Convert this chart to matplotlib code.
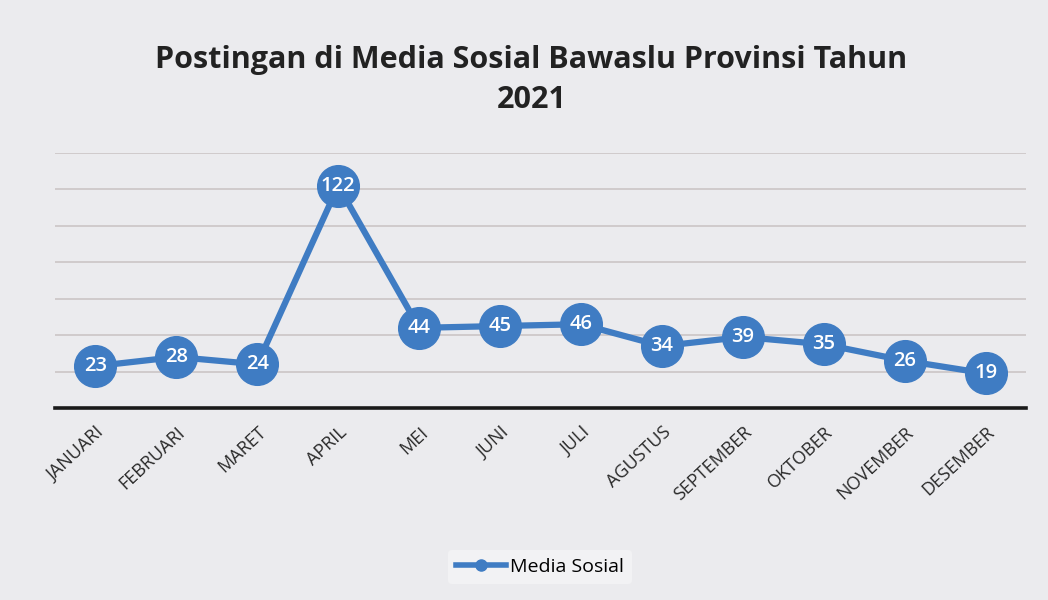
import matplotlib
matplotlib.use("Agg")
import matplotlib.pyplot as plt
from matplotlib.lines import Line2D

months = ["JANUARI", "FEBRUARI", "MARET", "APRIL", "MEI", "JUNI", "JULI",
          "AGUSTUS", "SEPTEMBER", "OKTOBER", "NOVEMBER", "DESEMBER"]
values = [23, 28, 24, 122, 44, 45, 46, 34, 39, 35, 26, 19]
series_name = "Media Sosial"
title = "Postingan di Media Sosial Bawaslu Provinsi Tahun\n2021"

plt.rcParams['font.family'] = ['Open Sans', 'DejaVu Sans']
blue = '#3f7cc3'
bg = '#ebebee'

fig = plt.figure(figsize=(10.48, 6), dpi=100, facecolor=bg)
ax = fig.add_axes([0.0525, 0.32, 0.9265, 0.425])
ax.set_facecolor(bg)

x = list(range(len(months)))
ax.plot(x, values, color=blue, lw=4.5, marker='o', markersize=30,
        markerfacecolor=blue, markeredgecolor=blue, label=series_name, zorder=3)
for xi, v in zip(x, values):
    ax.text(xi, v, str(v), ha='center', va='center', color='white',
            fontsize=14.5, fontweight='semibold', zorder=4)

ax.set_xlim(-0.5, len(months) - 0.5)
ax.set_ylim(0, 140)
ax.set_yticks(range(20, 141, 20))
ax.yaxis.grid(True, color='#c9c2c2', lw=1.1)
ax.set_axisbelow(True)
ax.tick_params(axis='y', left=False, labelleft=False)
ax.tick_params(axis='x', length=0, pad=11)
ax.set_xticks(x)
ax.set_xticklabels(months, rotation=43, ha='right', rotation_mode='anchor',
                   fontsize=13, color='#2a2a2a')
for s in ['top', 'right', 'left']:
    ax.spines[s].set_visible(False)
ax.spines['bottom'].set_color('#1a1a1a')
ax.spines['bottom'].set_linewidth(2.6)

fig.text(0.507, 0.867, title, ha='center', va='center', fontsize=22,
         fontweight='bold', color='#222222', linespacing=1.42)

lh = Line2D([0], [0], color=blue, lw=4, marker='o', markersize=8)
fig.legend([lh], [series_name], loc='center', bbox_to_anchor=(0.515, 0.055),
           frameon=True, facecolor='#f2f2f4', edgecolor='none', fontsize=14,
           handlelength=2.6, handletextpad=0.2, framealpha=1)

fig.savefig("out.png", dpi=100, facecolor=bg)
